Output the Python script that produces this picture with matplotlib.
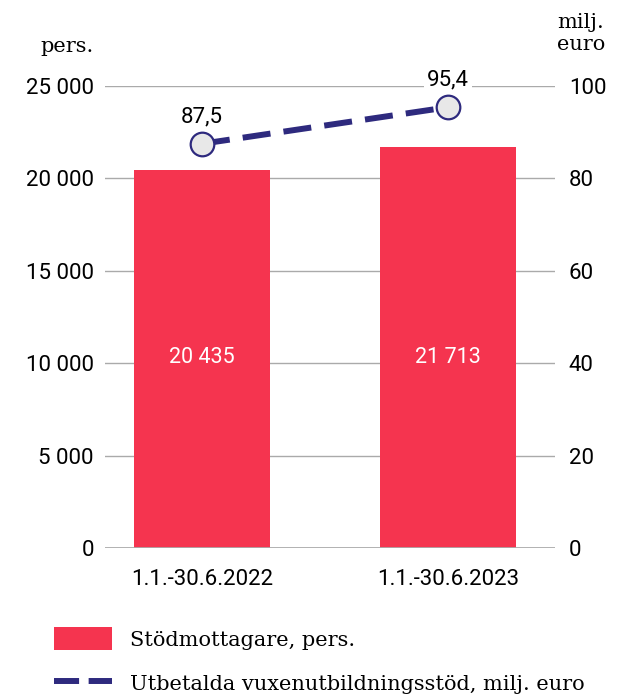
import matplotlib.pyplot as plt
from matplotlib.patches import Patch
from matplotlib.lines import Line2D

# Data
periods = ["1.1.-30.6.2022", "1.1.-30.6.2023"]
recipients = [20435, 21713]
paid_meur = [87.5, 95.4]
left_ticks = [0, 5000, 10000, 15000, 20000, 25000]
right_ticks = [0, 20, 40, 60, 80, 100]

red = "#f5344f"
navy = "#2e2a7e"
grid = "#aaaaaa"
plt.rcParams['font.family'] = ['DejaVu Serif']

def fmt_thousands(v):
    return f"{v:,}".replace(",", " ")

fig = plt.figure(figsize=(6.17, 6.96), dpi=100)
ax = fig.add_axes([105/617, 1-548/696, 450/617, 462/696])
ax2 = ax.twinx()

x = list(range(len(periods)))
for t in left_ticks[1:]:
    ax.axhline(t, color=grid, lw=1, zorder=0)
ax.bar(x, recipients, width=0.55, color=red, zorder=2)
for xi, v in zip(x, recipients):
    ax.text(xi, 10300, fmt_thousands(v), color="white", ha="center", va="center",
            fontsize=15.5, family="Roboto", zorder=3)
ax.axhline(0, color=grid, lw=2, zorder=3)

ax.set_ylim(0, 25000)
ax.set_xlim(-0.394, 1.435)
ax.set_yticks(left_ticks)
ax.set_yticklabels([fmt_thousands(t) for t in left_ticks], family="Roboto", fontsize=16)
ax.set_xticks(x)
ax.set_xticklabels(periods, family="Roboto", fontsize=16)
ax.tick_params(axis="x", length=0, pad=15)
ax.tick_params(axis="y", length=0, pad=8)
for s in ax.spines.values():
    s.set_visible(False)
for s in ax2.spines.values():
    s.set_visible(False)

ax2.set_ylim(0, 100)
ax2.set_yticks(right_ticks)
ax2.set_yticklabels([str(t) for t in right_ticks], family="Roboto", fontsize=16)
ax2.tick_params(axis="y", length=0, pad=10)
ax2.plot(x, paid_meur, color=navy, lw=4.3, dashes=(4.7, 2.2), marker="o", markersize=17,
         markerfacecolor="#e8e8e8", markeredgecolor=navy, markeredgewidth=1.6, zorder=4)
for xi, v in zip(x, paid_meur):
    ax2.text(xi, v + 3.6, f"{v:.1f}".replace(".", ","), ha="center", va="bottom",
             fontsize=16, family="Roboto",
             bbox=dict(facecolor="white", edgecolor="none", pad=2))

fig.text(67/617, 1-47/696, "pers.", ha="center", va="center", fontsize=15)
fig.text(581/617, 1-13/696, "milj.\neuro", ha="center", va="top", fontsize=15,
         linespacing=1.2)

handles = [Patch(facecolor=red, edgecolor="none"),
           Line2D([0], [0], color=navy, lw=4.3, dashes=(4.2, 1.6))]
labels = ["Stödmottagare, pers.", "Utbetalda vuxenutbildningsstöd, milj. euro"]
fig.legend(handles, labels, loc="upper left", bbox_to_anchor=(46/617, 1-619/696),
           frameon=False, fontsize=15, handlelength=2.75, handleheight=1.3,
           handletextpad=0.9, labelspacing=1.05, borderaxespad=0)

fig.savefig("out.png", dpi=100)
